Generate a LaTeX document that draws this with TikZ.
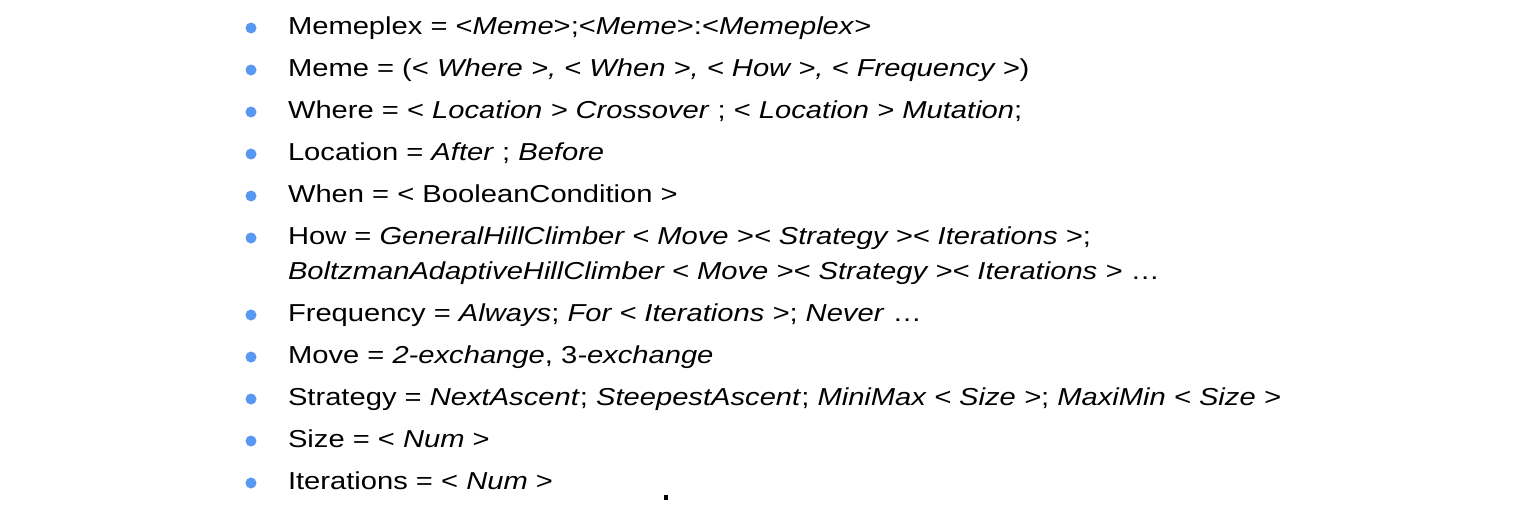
\documentclass[tikz,border=0pt]{standalone}
\usepackage{fontspec}
\setmainfont{Liberation Sans}[FakeStretch=1.19]
\definecolor{bulletblue}{RGB}{88,151,242}
\begin{document}
\begin{tikzpicture}[x=1pt,y=-1pt,
  txt/.style={anchor=base west,inner sep=0pt,outer sep=0pt,font=\fontsize{24.5}{24.5}\selectfont,text=black},
  bul/.style={circle,fill=bulletblue,inner sep=0pt,minimum size=11pt}]
\useasboundingbox[fill=white] (0,0) rectangle (1530,504);
\node[txt] (l1) at (288,34) {Memeplex = <\textit{Meme}>;<\textit{Meme}>:<\textit{Memeplex}>};
\node[txt] (l2) at (288,76) {Meme = (< \textit{Where >, < When >, < How >, < Frequency >})};
\node[txt] (l3) at (288,118) {Where = < \textit{Location > Crossover} ; < \textit{Location > Mutation};};
\node[txt] (l4) at (288,160) {Location = \textit{After} ; \textit{Before}};
\node[txt] (l5) at (288,202) {When = < BooleanCondition >};
\node[txt] (l6) at (288,244) {How = \textit{GeneralHillClimber < Move >< Strategy >< Iterations >};};
\node[txt] (l6b) at (288,279) {\textit{BoltzmanAdaptiveHillClimber < Move >< Strategy >< Iterations >} …};
\node[txt] (l7) at (288,321) {Frequency = \textit{Always}; \textit{For < Iterations >}; \textit{Never} …};
\node[txt] (l8) at (288,363) {Move = \textit{2-exchange}, 3\textit{-exchange}};
\node[txt] (l9) at (288,405) {Strategy = \textit{NextAscent}; \textit{SteepestAscent}; \textit{MiniMax < Size >}; \textit{MaxiMin < Size >}};
\node[txt] (l10) at (288,447) {Size = < \textit{Num} >};
\node[txt] (l11) at (288,489) {Iterations = < \textit{Num} >};
\foreach \i/\y in {1/28,2/70,3/112,4/154,5/196,6/238,7/315,8/357,9/399,10/441,11/483}
  \node[bul] (b\i) at (251,\y) {};
\fill[black] (664,495) rectangle (668,500);
\end{tikzpicture}
\end{document}
